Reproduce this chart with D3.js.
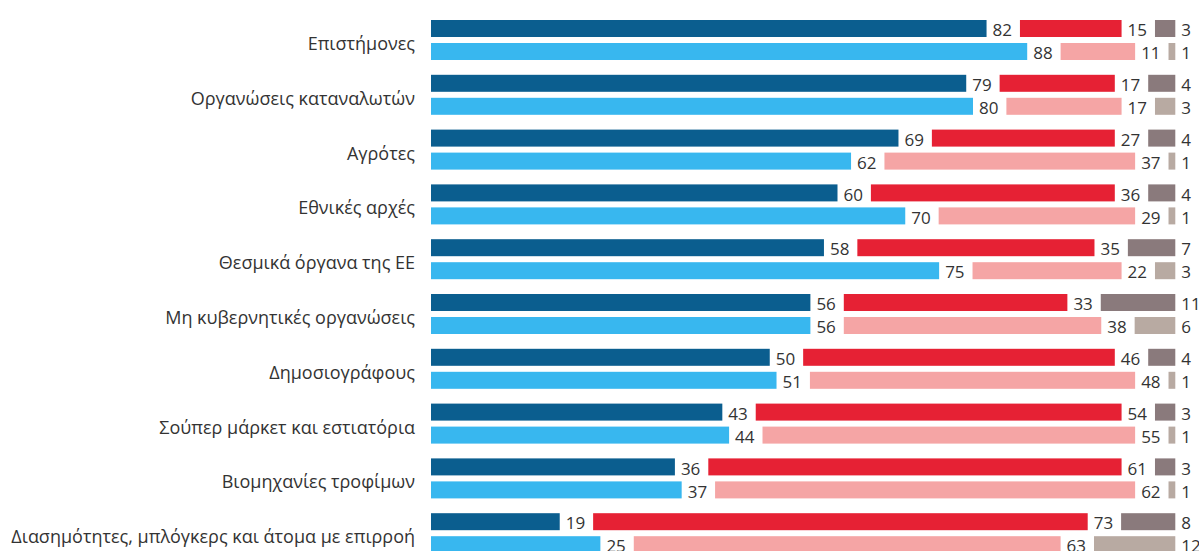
<!DOCTYPE html>
<html>
<head>
<meta charset="utf-8">
<script src="https://cdn.jsdelivr.net/npm/d3@7"></script>
<style>
  body { margin: 0; background: #fff; }
  text { font-family: "Open Sans", sans-serif; fill: #333; }
</style>
</head>
<body>
<svg class="chart"></svg>
<script>
var categories = [
  'Επιστήμονες',
  'Οργανώσεις καταναλωτών',
  'Αγρότες',
  'Εθνικές αρχές',
  'Θεσμικά όργανα της ΕΕ',
  'Μη κυβερνητικές οργανώσεις',
  'Δημοσιογράφους',
  'Σούπερ μάρκετ και εστιατόρια',
  'Βιομηχανίες τροφίμων',
  'Διασημότητες, μπλόγκερς και άτομα με επιρροή'
];
// top row
var trustTop =    [82, 79, 69, 60, 58, 56, 50, 43, 36, 19];
var distrustTop = [15, 17, 27, 36, 35, 33, 46, 54, 61, 73];
var dkTop =       [3, 4, 4, 4, 7, 11, 4, 3, 3, 8];
// bottom row
var trustBottom =    [88, 80, 62, 70, 75, 56, 51, 44, 37, 25];
var distrustBottom = [11, 17, 37, 29, 22, 38, 48, 55, 62, 63];
var dkBottom =       [1, 3, 1, 1, 3, 6, 1, 1, 1, 12];

var settings = {
  width: 1199,
  height: 551,
  x0: 431,
  gap: 33.4,
  barH: 17,
  rowOffset: 23
};

var colorsTop = ['#0b5e8f', '#e62134', '#8a7a7c'];
var colorsBottom = ['#38b7ef', '#f5a5a5', '#b8aaa2'];

var svg = d3.select('.chart')
  .attr('width', settings.width)
  .attr('height', settings.height);

var x = d3.scaleLinear().domain([0, 100]).range([0, 677.5]);
var y = d3.scaleBand().domain(categories).range([20, 20 + 54.8 * categories.length]);

function rowData(a, b, c, colors, off) {
  return categories.map(function(cat, i) {
    var vals = [a[i], b[i], c[i]];
    var cum = 0;
    return vals.map(function(v, j) {
      var seg = { cat: cat, v: v, start: cum, j: j, color: colors[j], off: off };
      cum += v;
      return seg;
    });
  });
}

var rows = rowData(trustTop, distrustTop, dkTop, colorsTop, 0)
  .concat(rowData(trustBottom, distrustBottom, dkBottom, colorsBottom, settings.rowOffset));
var segs = d3.merge(rows);

svg.selectAll('rect.seg')
  .data(segs)
  .enter()
  .append('rect')
  .attr('class', 'seg')
  .attr('x', function(d) { return settings.x0 + x(d.start) + d.j * settings.gap; })
  .attr('y', function(d) { return y(d.cat) + d.off; })
  .attr('width', function(d) { return x(d.v); })
  .attr('height', settings.barH)
  .attr('fill', function(d) { return d.color; });

svg.selectAll('text.val')
  .data(segs)
  .enter()
  .append('text')
  .attr('class', 'val')
  .attr('x', function(d) { return settings.x0 + x(d.start + d.v) + d.j * settings.gap + 6; })
  .attr('y', function(d) { return y(d.cat) + d.off + settings.barH / 2 + 1.5; })
  .attr('dy', '0.36em')
  .style('font-size', '17px')
  .text(function(d) { return d.v; });

svg.selectAll('text.cat')
  .data(categories)
  .enter()
  .append('text')
  .attr('class', 'cat')
  .attr('x', 415)
  .attr('y', function(d) { return y(d) + 23.5; })
  .attr('dy', '0.36em')
  .attr('text-anchor', 'end')
  .style('font-size', '18px')
  .text(function(d) { return d; });
</script>
</body>
</html>
